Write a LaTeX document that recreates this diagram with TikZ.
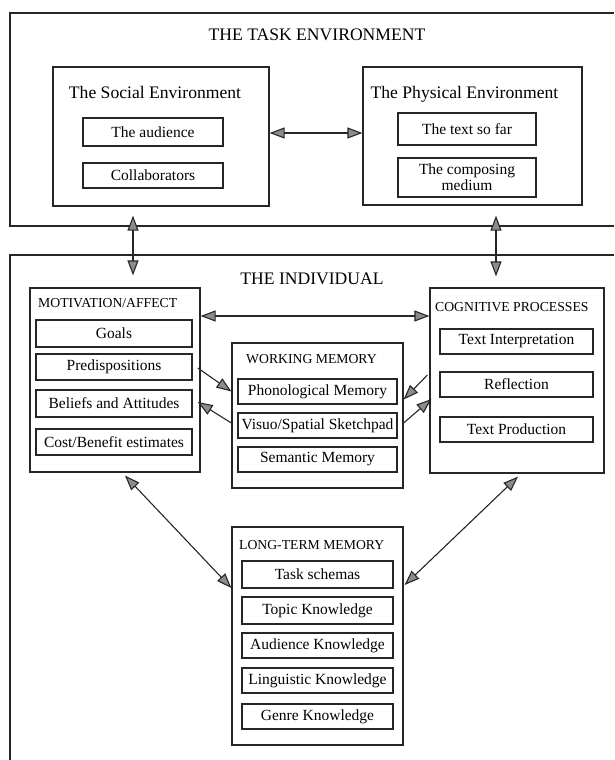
\documentclass[tikz,border=0pt]{standalone}
\usepackage{fontspec}
\setmainfont{Liberation Serif}
\usetikzlibrary{arrows.meta,calc}
\newcommand\tefont{\fontsize{17.6}{20}\selectfont}
\newcommand\itfont{\fontsize{15.5}{16}\selectfont}
\newcommand\hdfont{\fontsize{13.7}{15}\selectfont}
\tikzset{
  frame/.style={draw=black!85, line width=1.2pt},
  panel/.style={frame, rectangle, inner sep=0pt},
  item/.style={draw=black!85, line width=1.5pt, rectangle, inner sep=0pt, font=\itfont},
  tip/.tip={Triangle[length=15pt,width=11pt,fill=black!45]},
  arr/.style={draw=black!85, line width=1.1pt, -tip},
  arrboth/.style={draw=black!85, line width=1.1pt, tip-tip},
  ttl/.style={inner sep=0pt, anchor=base, font=\tefont},
  hdr/.style={inner sep=0pt, anchor=west, font=\hdfont},
}
\begin{document}
\begin{tikzpicture}[x=1pt,y=-1pt]
\useasboundingbox (0,0) rectangle (614,760);
% outer frames (open on the right / bottom)
\draw[frame] (614,13) -- (10,13) -- (10,226) -- (614,226);
\draw[frame] (614,255) -- (10,255) -- (10,760);
\node[ttl] (teT) at (317,41) {THE TASK ENVIRONMENT};
\node[ttl] (inT) at (312,284) {THE INDIVIDUAL};

% task environment
\node[panel, minimum width=216pt, minimum height=139pt] (social) at (161,136.5) {};
\node[ttl] (socT) at (155,99) {The Social Environment};
\node[item, minimum width=140pt, minimum height=28pt] (aud) at (153,132) {The audience};
\node[item, minimum width=140pt, minimum height=25pt] (col) at (153,175.5) {Collaborators};

\node[panel, minimum width=219pt, minimum height=138pt] (phys) at (472.5,136) {};
\node[ttl] (phyT) at (464.5,98) {The Physical Environment};
\node[item, minimum width=138pt, minimum height=32pt] (sofar) at (467,129) {The text so far};
\node[item, minimum width=138pt, minimum height=39pt, align=center] (comp) at (467,177.5) {The composing\\medium};

% individual
\node[panel, minimum width=170pt, minimum height=184pt] (motiv) at (115,380) {};
\node[hdr] (motT) at (38,303) {MOTIVATION/AFFECT};
\node[item, minimum width=156pt, minimum height=27pt] (goals) at (114,333.5) {Goals};
\node[item, minimum width=156pt, minimum height=26pt] (predis) at (114,367) {Predispositions};
\node[item, minimum width=156pt, minimum height=27pt] (beliefs) at (114,403.5) {Beliefs and Attitudes};
\node[item, minimum width=156pt, minimum height=26pt] (cost) at (114,442) {Cost/Benefit estimates};

\node[panel, minimum width=171pt, minimum height=145pt] (wm) at (317.5,415.5) {};
\node[hdr] (wmT) at (246,359) {WORKING MEMORY};
\node[item, minimum width=159pt, minimum height=25pt] (phono) at (317.5,391.5) {Phonological Memory};
\node[item, minimum width=159pt, minimum height=25pt] (visuo) at (317.5,425.5) {Visuo/Spatial Sketchpad};
\node[item, minimum width=159pt, minimum height=25pt] (sem) at (317.5,459.5) {Semantic Memory};

\node[panel, minimum width=174pt, minimum height=185pt] (cog) at (517,380.5) {};
\node[hdr] (cogT) at (435,307) {COGNITIVE PROCESSES};
\node[item, minimum width=153pt, minimum height=25pt] (interp) at (516.5,341.5) {Text Interpretation};
\node[item, minimum width=153pt, minimum height=25pt] (refl) at (516.5,384.5) {Reflection};
\node[item, minimum width=153pt, minimum height=25pt] (prod) at (516.5,429.5) {Text Production};

\node[panel, minimum width=171pt, minimum height=218pt] (ltm) at (317.5,636) {};
\node[hdr] (ltmT) at (239,545) {LONG-TERM MEMORY};
\node[item, minimum width=151pt, minimum height=27pt] (task) at (317.5,574.5) {Task schemas};
\node[item, minimum width=151pt, minimum height=27pt] (topic) at (317.5,610.5) {Topic Knowledge};
\node[item, minimum width=151pt, minimum height=25pt] (audk) at (317.5,645.5) {Audience Knowledge};
\node[item, minimum width=151pt, minimum height=25pt] (ling) at (317.5,680.5) {Linguistic Knowledge};
\node[item, minimum width=151pt, minimum height=25pt] (genre) at (317.5,716.5) {Genre Knowledge};

% connectors
\draw[arrboth] ([yshift=3.5pt]social.east) -- ([yshift=3pt]phys.west);
\draw[arrboth] ($(social.south)+(-28,9)$) -- ($(motiv.north)+(18,-12)$);
\draw[arrboth] ($(phys.south)+(23.5,10)$) -- ($(cog.north)+(-21,-11)$);
\draw[arrboth] ([yshift=64pt]motiv.east) -- ([yshift=64.5pt]cog.west);
\draw[arr] ($(predis.east)+(5,1)$) -- (wm.west |- phono);
\draw[arr] ($(wm.west)+(0,7.5)$) -- ($(beliefs.east)+(5,-1.5)$);
\draw[arr] ($(cog.west)+(-2,-5.5)$) -- ($(wm.east)+(0,-16)$);
\draw[arr] ($(wm.east)+(0,7.5)$) -- ($(cog.west)+(2,18.5)$);
\draw[arrboth] ($(motiv.south)+(10,3)$) -- ($(ltm.west)+(0,-48)$);
\draw[arrboth] ($(cog.south)+(1,3)$) -- ($(ltm.east)+(1,-51)$);
\end{tikzpicture}
\end{document}
